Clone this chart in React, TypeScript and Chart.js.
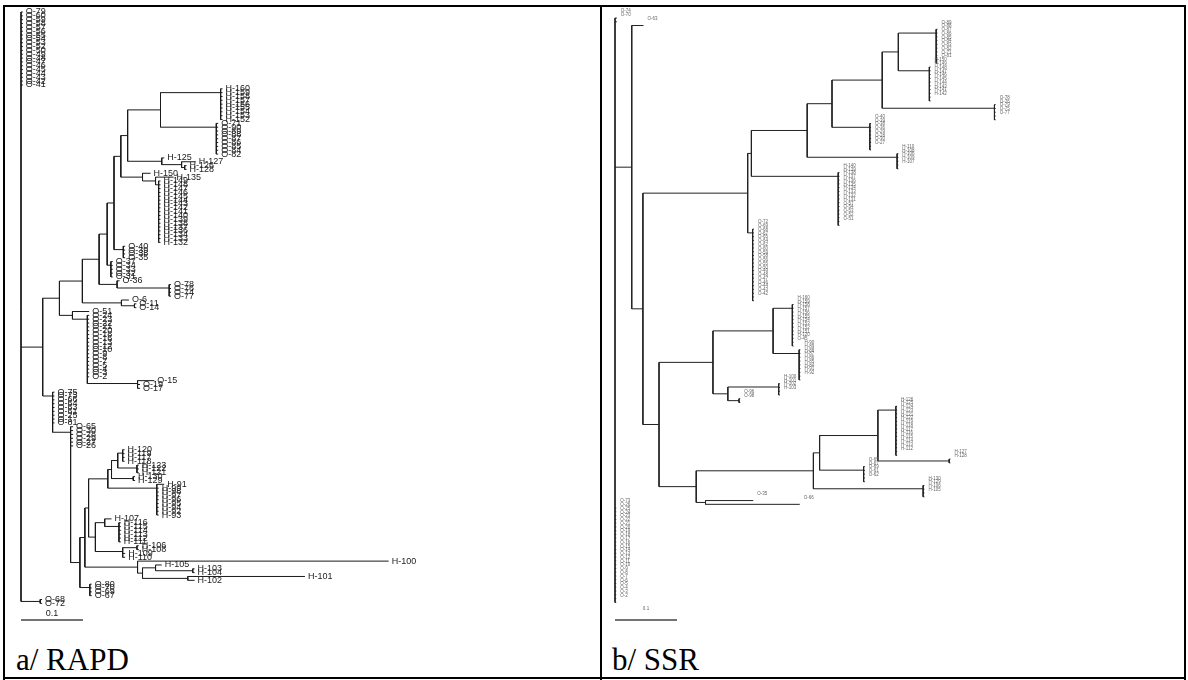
import React, { useEffect, useRef } from "react";
import { Chart, registerables } from "chart.js";
Chart.register(...registerables);

// ---------------- DATA ----------------
// RAPD leaf groups (top to bottom)
const rapdTop = ["O-79","O-60","O-59","O-58","O-57","O-56","O-55","O-54","O-53","O-52","O-50","O-49","O-48","O-47","O-46","O-45","O-44","O-43","O-42","O-41"];
const rapdH160 = ["H-160","H-159","H-158","H-157","H-156","H-155","H-154","H-153","H-152"];
const rapdO62 = ["O-71","O-90","O-89","O-88","O-87","O-86","O-85","O-84","O-82"];
const rapdHComb = ["H-149","H-148","H-147","H-146","H-145","H-144","H-143","H-142","H-141","H-140","H-139","H-138","H-137","H-136","H-134","H-133","H-132"];
const rapdO40 = ["O-40","O-39","O-38","O-35"];
const rapdO3x = ["O-37","O-34","O-33","O-32","O-31"];
const rapdO78 = ["O-78","O-76","O-74","O-77"];
const rapdO51 = ["O-24","O-23","O-22","O-21","O-20","O-18","O-16","O-13","O-12","O-10","O-9","O-8","O-7","O-5","O-4","O-3","O-2"];
const rapdO75 = ["O-75","O-73","O-66","O-64","O-63","O-61","O-25","O-1","O-81"];
const rapdO65 = ["O-65","O-30","O-28","O-29","O-27","O-26"];
const rapdH120 = ["H-120","H-119","H-117","H-118"];
const rapdH123 = ["H-123","H-122","H-121"];
const rapdH130 = ["H-130","H-129"];
const rapdH91 = ["H-99","H-98","H-97","H-96","H-95","H-94","H-92","H-93"];
const rapdH116 = ["H-116","H-115","H-114","H-113","H-112","H-111"];
const rapdO80 = ["O-80","O-70","O-69","O-67"];
const rapdO68 = ["O-68","O-72"];

// SSR leaf groups (top to bottom)
const ssrTop = ["O-74","O-70"];
const ssrO88 = ["O-89","O-88","O-87","O-86","O-85","O-84","O-83","O-82","O-71","O-81"];
const ssrH148 = ["H-150","H-149","H-148","H-147","H-146","H-145","H-144","H-143","H-141","H-142"];
const ssrO78 = ["O-78","O-76","O-79","O-75","O-77"];
const ssrO40 = ["O-40","O-39","O-38","O-36","O-29","O-28","O-30","O-27"];
const ssrH110 = ["H-110","H-108","H-106","H-109","H-107"];
const ssrH140 = ["H-140","H-139","H-138","H-137","H-136","H-135","H-134","H-133","H-132","H-131","O-57","O-54","O-53","O-52","O-51"];
const ssrO72 = ["O-72","O-69","O-68","O-67","O-65","O-64","O-62","O-60","O-59","O-58","O-56","O-55","O-50","O-49","O-48","O-47","O-46","O-44","O-43","O-42"];
const ssrH160 = ["H-160","H-159","H-158","H-157","H-156","H-155","H-154","H-153","H-152","H-151","H-120","O-45"];
const ssrH90 = ["H-90","H-89","H-88","H-87","H-86","H-85","H-84","H-91","H-92"];
const ssrH100 = ["H-100","H-101","H-102","H-103"];
const ssrO96 = ["O-96","O-98"];
const ssrH126 = ["H-126","H-125","H-124","H-123","H-121","H-122","H-119","H-118","H-117","H-116","H-115","H-114","H-113","H-112"];
const ssrH127 = ["H-127","H-128"];
const ssrO65 = ["O-65","O-67","O-69","O-61","O-62"];
const ssrH130 = ["H-130","H-129","H-106","H-105"];
const ssrBottom = ["O-73","O-26","O-25","O-24","O-23","O-22","O-21","O-20","O-19","O-18","O-17","O-16","O-15","O-14","O-13","O-12","O-11","O-10","O-9","O-8","O-7","O-6","O-5","O-4","O-3","O-2"];

const scaleBarLength = 0.1;
const scaleBarLabel = "0.1";

// ---------------- TREE BUILDERS ----------------
type TNode = { name?: string; len: number; children?: TNode[] };
const leaf = (name: string, len: number): TNode => ({ name, len });
const node = (len: number, ...kids: (TNode | TNode[])[]): TNode => ({
  len,
  children: ([] as TNode[]).concat(...kids.map((k) => (Array.isArray(k) ? k : [k]))),
});
const comb = (names: string[], len: number): TNode[] => names.map((n) => leaf(n, len));

// branch lengths (genetic distance)
const rapdTree = node(0,
  comb(rapdTop, 0.003),
  node(0.035,
    node(0.027,
      node(0.037,
        node(0.027,
          node(0.013,
            node(0.011,
              node(0.011,
                node(0.011,
                  node(0.053, node(0.097, comb(rapdH160, 0.003)), node(0.090, comb(rapdO62, 0.003))),
                  node(0.055, leaf("H-125", 0.004), node(0.032, leaf("H-127", 0.023), node(0.005, leaf("H-126", 0.003), leaf("H-128", 0.003))))),
                node(0.035, leaf("H-150", 0.013), node(0.021, leaf("H-135", 0.029), node(0.005, comb(rapdHComb, 0.003))))),
              node(0.015, comb(rapdO40, 0.003))),
            node(0.006, comb(rapdO3x, 0.003))),
          node(0.029, leaf("O-36", 0.004), node(0.084, comb(rapdO78, 0.003)))),
        node(0.063, leaf("O-6", 0.012), node(0.021, leaf("O-11", 0.003), leaf("O-14", 0.003)))),
      node(0.021, leaf("O-51", 0.027),
        node(0.024, comb(rapdO51, 0.003), node(0.081, leaf("O-15", 0.027), leaf("O-19", 0.004), leaf("O-17", 0.004))))),
    node(0.016,
      comb(rapdO75, 0.003),
      node(0.029,
        comb(rapdO65, 0.004),
        node(0.015,
          node(0.008,
            node(0.006,
              node(0.031,
                node(0.006,
                  node(0.010, node(0.008, comb(rapdH120, 0.003)), node(0.031, comb(rapdH123, 0.003))),
                  node(0.035, comb(rapdH130, 0.003))),
                node(0.079, leaf("H-91", 0.012), comb(rapdH91, 0.003))),
              node(0.011,
                node(0.015, leaf("H-107", 0.011), node(0.023, comb(rapdH116, 0.003))),
                node(0.044, node(0.023, leaf("H-106", 0.003), leaf("H-108", 0.003)), leaf("H-109", 0.004), leaf("H-110", 0.004)))),
            node(0.085, leaf("H-100", 0.405),
              node(0.008,
                node(0.021, leaf("H-105", 0.010), node(0.060, leaf("H-103", 0.003), leaf("H-104", 0.003))),
                node(0.073, leaf("H-101", 0.189), leaf("H-102", 0.011))))),
          node(0.016, comb(rapdO80, 0.003)))))),
  node(0.031, comb(rapdO68, 0.003))
);

const ssrTree = node(0,
  comb(ssrTop, 0.003),
  node(0.027,
    leaf("O-63", 0.019),
    node(0.018,
      node(0.169,
        node(0.006,
          node(0.090,
            node(0.040,
              node(0.081,
                node(0.026,
                  node(0.061, comb(ssrO88, 0.002)),
                  node(0.050, comb(ssrH148, 0.002))),
                node(0.181, comb(ssrO78, 0.002))),
              node(0.061, comb(ssrO40, 0.002))),
            node(0.145, comb(ssrH110, 0.002))),
          node(0.140, comb(ssrH140, 0.002))),
        node(0.008, comb(ssrO72, 0.002))),
      node(0.026,
        node(0.087,
          node(0.097, node(0.031, comb(ssrH160, 0.002)), node(0.042, comb(ssrH90, 0.002))),
          node(0.024, node(0.082, comb(ssrH100, 0.002)), node(0.018, comb(ssrO96, 0.002)))),
        node(0.060,
          node(0.189,
            node(0.010,
              node(0.094, node(0.029, comb(ssrH126, 0.002)), node(0.115, comb(ssrH127, 0.002))),
              node(0.071, comb(ssrO65, 0.002))),
            node(0.177, comb(ssrH130, 0.002))),
          node(0.015, leaf("O-35", 0.077), leaf("O-66", 0.152)))))),
  comb(ssrBottom, 0.002)
);

// ---------------- LAYOUT ----------------
type Pt = { x: number; y: number };
type LeafPos = { name: string; x: number; y: number };
function layoutTree(root: TNode) {
  const pts: Pt[] = [];
  const leaves: LeafPos[] = [];
  let idx = 0;
  const seg = (x1: number, y1: number, x2: number, y2: number) => {
    pts.push({ x: x1, y: y1 }, { x: x2, y: y2 }, { x: NaN, y: NaN });
  };
  const walk = (n: TNode, px: number): Pt => {
    const x = px + n.len;
    if (!n.children || n.children.length === 0) {
      const y = idx++;
      leaves.push({ name: n.name || "", x, y });
      return { x, y };
    }
    const kids = n.children.map((c) => walk(c, x));
    let y = kids[kids.length - 1].y;
    for (let i = kids.length - 2; i >= 0; i--) y = (kids[i].y + y) / 2;
    seg(x, kids[0].y, x, kids[kids.length - 1].y);
    kids.forEach((k) => seg(x, k.y, k.x, k.y));
    return { x, y };
  };
  walk(root, 0);
  return { pts, leaves };
}

// ---------------- CHART ----------------
type PanelProps = {
  tree: TNode;
  left: number;
  width: number;
  height: number;
  rootPx: number;
  pxPerUnit: number;
  firstLeafPx: number;
  leafStep: number;
  lineColor: string;
  labelFont: string;
  labelColor: string;
  labelDx: number;
  labelDy: number;
  barFromBottom: number;
  barLabelGap: number;
  barFont: string;
};

function TreePanel(p: PanelProps) {
  const ref = useRef<HTMLCanvasElement>(null);
  useEffect(() => {
    const { pts, leaves } = layoutTree(p.tree);
    const labelPlugin = {
      id: "leafLabels",
      afterDatasetsDraw(chart: any) {
        const { ctx, chartArea } = chart;
        const xs = chart.scales.x;
        const ys = chart.scales.y;
        ctx.save();
        ctx.font = p.labelFont;
        ctx.fillStyle = p.labelColor;
        ctx.textBaseline = "middle";
        ctx.textAlign = "left";
        leaves.forEach((l) => {
          ctx.fillText(l.name, xs.getPixelForValue(l.x) + p.labelDx, ys.getPixelForValue(l.y) + p.labelDy);
        });
        const x0 = xs.getPixelForValue(0);
        const x1 = xs.getPixelForValue(scaleBarLength);
        const yb = chartArea.bottom - p.barFromBottom;
        ctx.strokeStyle = "#444";
        ctx.lineWidth = 1.5;
        ctx.beginPath();
        ctx.moveTo(x0, yb);
        ctx.lineTo(x1, yb);
        ctx.stroke();
        ctx.font = p.barFont;
        ctx.textAlign = "center";
        ctx.fillStyle = p.labelColor;
        ctx.fillText(scaleBarLabel, (x0 + x1) / 2, yb - p.barLabelGap);
        ctx.restore();
      },
    };
    const chart = new Chart(ref.current as HTMLCanvasElement, {
      type: "scatter",
      data: {
        datasets: [
          {
            data: pts as any,
            showLine: true,
            borderColor: p.lineColor,
            borderWidth: 1,
            pointRadius: 0,
            spanGaps: false,
            tension: 0,
          } as any,
        ],
      },
      options: {
        animation: false,
        responsive: false,
        maintainAspectRatio: false,
        devicePixelRatio: 1,
        events: [],
        layout: { padding: 0 },
        plugins: { legend: { display: false }, tooltip: { enabled: false } },
        scales: {
          x: {
            type: "linear",
            display: false,
            min: -p.rootPx / p.pxPerUnit,
            max: (p.width - p.rootPx) / p.pxPerUnit,
          },
          y: {
            type: "linear",
            display: false,
            reverse: true,
            min: -p.firstLeafPx / p.leafStep,
            max: (p.height - p.firstLeafPx) / p.leafStep,
          },
        },
      },
      plugins: [labelPlugin as any],
    });
    return () => chart.destroy();
  }, []);
  return (
    <canvas
      ref={ref}
      width={p.width}
      height={p.height}
      style={{ position: "absolute", left: p.left, top: 0, width: p.width, height: p.height }}
    />
  );
}

const box = (left: number, top: number, width: number, height: number) => (
  <div style={{ position: "absolute", left, top, width, height, background: "#000" }} />
);

export default function App() {
  return (
    <div style={{ position: "absolute", left: 0, top: 0, width: 1188, height: 680, background: "#fff", overflow: "hidden" }}>
      {box(3, 5, 1183, 2)}
      {box(3, 5, 2, 675)}
      {box(600, 5, 2, 675)}
      {box(1184, 5, 2, 675)}
      {box(3, 677, 1183, 2)}
      <TreePanel
        tree={rapdTree}
        left={0}
        width={600}
        height={636}
        rootPx={21}
        pxPerUnit={620}
        firstLeafPx={12}
        leafStep={3.84}
        lineColor="#1a1a1a"
        labelFont="9px 'Liberation Sans', Arial, sans-serif"
        labelColor="#222"
        labelDx={3}
        labelDy={0}
        barFromBottom={16}
        barLabelGap={6}
        barFont="9px 'Liberation Sans', Arial, sans-serif"
      />
      <TreePanel
        tree={ssrTree}
        left={600}
        width={588}
        height={636}
        rootPx={15}
        pxPerUnit={620}
        firstLeafPx={18}
        leafStep={3.77}
        lineColor="#222"
        labelFont="4.5px 'Liberation Sans', Arial, sans-serif"
        labelColor="#666"
        labelDx={4}
        labelDy={-7}
        barFromBottom={16}
        barLabelGap={11}
        barFont="4.5px 'Liberation Sans', Arial, sans-serif"
      />
      <div style={{ position: "absolute", left: 16, top: 642, fontFamily: "'Liberation Serif', 'Times New Roman', serif", fontSize: 31, lineHeight: "36px", color: "#000" }}>
        a/ RAPD
      </div>
      <div style={{ position: "absolute", left: 612, top: 642, fontFamily: "'Liberation Serif', 'Times New Roman', serif", fontSize: 31, lineHeight: "36px", color: "#000" }}>
        b/ SSR
      </div>
    </div>
  );
}
